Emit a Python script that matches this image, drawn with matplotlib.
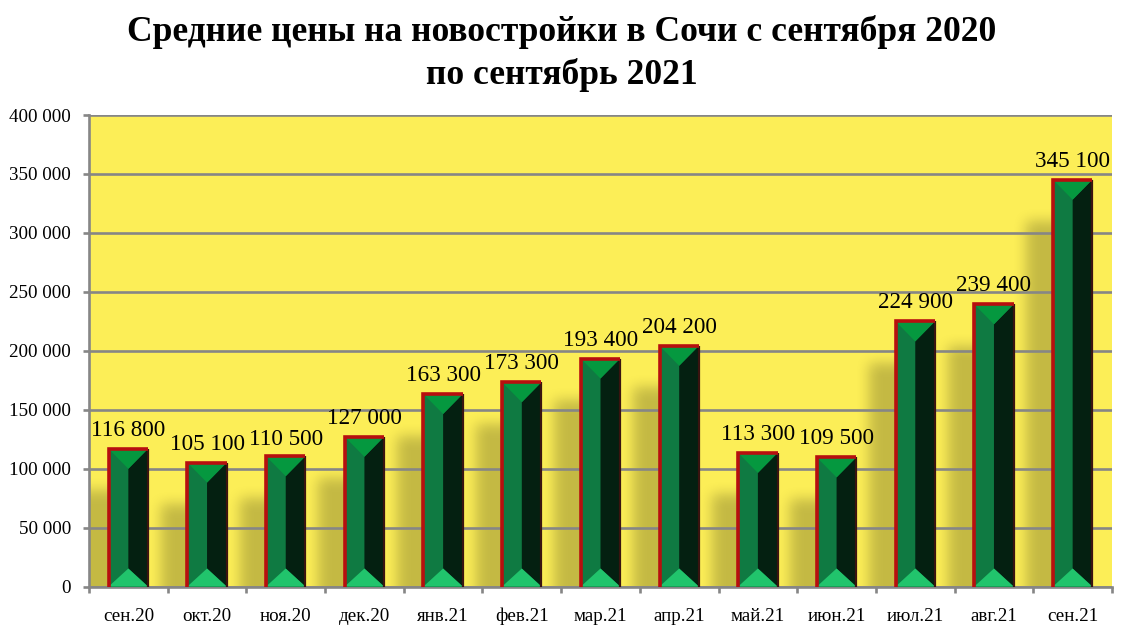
import numpy as np
import matplotlib
matplotlib.use("Agg")
import matplotlib.pyplot as plt
from matplotlib.patches import Polygon
from matplotlib.ticker import FuncFormatter

months = ["сен.20", "окт.20", "ноя.20", "дек.20", "янв.21", "фев.21", "мар.21",
          "апр.21", "май.21", "июн.21", "июл.21", "авг.21", "сен.21"]
prices = [116800, 105100, 110500, 127000, 163300, 173300, 193400,
          204200, 113300, 109500, 224900, 239400, 345100]
# small nudge of the value labels in the original (px)
label_dy = [0, 0, -2, 0, 0, 0, 0, 0, 0, 0, 0, 0, 0]

W, H = 1122, 628
YELLOW = "#fcee57"
GRID = "#868686"
TITLE = "Средние цены на новостройки в Сочи с сентября 2020\nпо сентябрь 2021"

plt.rcParams["font.family"] = ["Liberation Serif", "DejaVu Serif"]

fig = plt.figure(figsize=(W / 100, H / 100), dpi=100, facecolor="white")
ax = fig.add_axes([89 / W, 1 - 586.5 / H, (1112 - 89) / W, (586.5 - 115) / H])
ax.set_facecolor(YELLOW)

x = np.arange(len(prices))
bar_w = 0.5
ymax = 400000
ax.set_xlim(-0.5, len(prices) - 0.5)
ax.set_ylim(0, ymax)

px_x = (len(prices)) / (1112 - 89)       # data units per pixel, x
px_y = ymax / (586.5 - 115)              # data units per pixel, y

# soft shadow falling to the left of each bar
sh_h, sh_w = 472, 1023
mask = np.zeros((sh_h, sh_w))
for xi, v in zip(x, prices):
    left = int((xi - bar_w / 2 + 0.5) / px_x) - 26
    right = int((xi + 0.5) / px_x)
    top = int((ymax - v) / px_y) + 42
    mask[max(top, 0):, max(left, 0):right] = 1
pad = 40
padded = np.pad(mask, pad, mode="edge")
kernel = np.ones(15) / 15
for _ in range(2):
    padded = np.apply_along_axis(lambda r: np.convolve(r, kernel, mode="same"), 0, padded)
    padded = np.apply_along_axis(lambda r: np.convolve(r, kernel, mode="same"), 1, padded)
blurred = padded[pad:-pad, pad:-pad]
rgba = np.zeros((sh_h, sh_w, 4))
rgba[..., 3] = blurred * 0.22
ax.imshow(rgba, extent=(-0.5, len(prices) - 0.5, 0, ymax), aspect="auto",
          origin="upper", zorder=1, interpolation="bilinear")

ax.set_yticks(np.arange(0, ymax + 1, 50000))
ax.yaxis.set_major_formatter(FuncFormatter(lambda v, _: f"{int(v):,}".replace(",", " ")))
ax.grid(axis="y", color=GRID, lw=1.9, zorder=2)
ax.set_axisbelow(False)
ax.xaxis.grid(False)

ax.set_xticks(x)
ax.set_xticklabels(months, va="baseline")
ax.set_xticks(np.arange(-0.5, len(prices)), minor=True)
ax.tick_params(axis="x", which="major", length=0, pad=25, labelsize=13.7, colors="black")
ax.tick_params(axis="x", which="minor", length=4, width=1.9, color=GRID)
ax.tick_params(axis="y", length=4, width=1.9, color=GRID, pad=9, labelsize=13.7)
for s in ["top", "right"]:
    ax.spines[s].set_visible(False)
for s in ["left", "bottom"]:
    ax.spines[s].set_color(GRID)
    ax.spines[s].set_linewidth(1.9)
    ax.spines[s].set_zorder(3)

# the bars: a plain bar with four bevel faces on it
top_h = 20 * px_y
bot_h = 18 * px_y
for xi, v, dy in zip(x, prices, label_dy):
    l, r = xi - bar_w / 2, xi + bar_w / 2
    ax.bar(xi, v, width=bar_w, color="#0f7a42", zorder=4)
    ax.add_patch(Polygon([(xi, v - top_h), (r, v), (r, 0), (xi, bot_h)],
                         closed=True, color="#042011", lw=0, zorder=5))
    ax.add_patch(Polygon([(l, v), (r, v), (xi, v - top_h)],
                         closed=True, color="#05983f", lw=0, zorder=6))
    ax.add_patch(Polygon([(l, 0), (r, 0), (xi, bot_h)],
                         closed=True, color="#21c46c", lw=0, zorder=6))
    # red outline, darker on the right side
    ax.plot([r, r], [0, v], color="#3a1410", lw=1.6,
            zorder=7, solid_capstyle="butt", clip_on=False)
    ax.plot([l, l, r], [0, v, v], color="#b70f0f", lw=2.6, zorder=7,
            solid_joinstyle="miter", solid_capstyle="butt", clip_on=False)
    ax.annotate(f"{v:,}".replace(",", " "), (xi, v), xytext=(0, (8 + dy) * 0.72),
                textcoords="offset points", ha="center", va="bottom", fontsize=16.7,
                color="black", zorder=8, annotation_clip=False)

fig.text(562 / W, 1 - 32 / H, TITLE.split("\n")[0], ha="center", va="center",
         fontsize=25.6, fontweight="bold", color="black")
fig.text(562 / W, 1 - 75 / H, TITLE.split("\n")[1], ha="center", va="center",
         fontsize=25.6, fontweight="bold", color="black")

fig.savefig("out.png", dpi=100, facecolor="white")
